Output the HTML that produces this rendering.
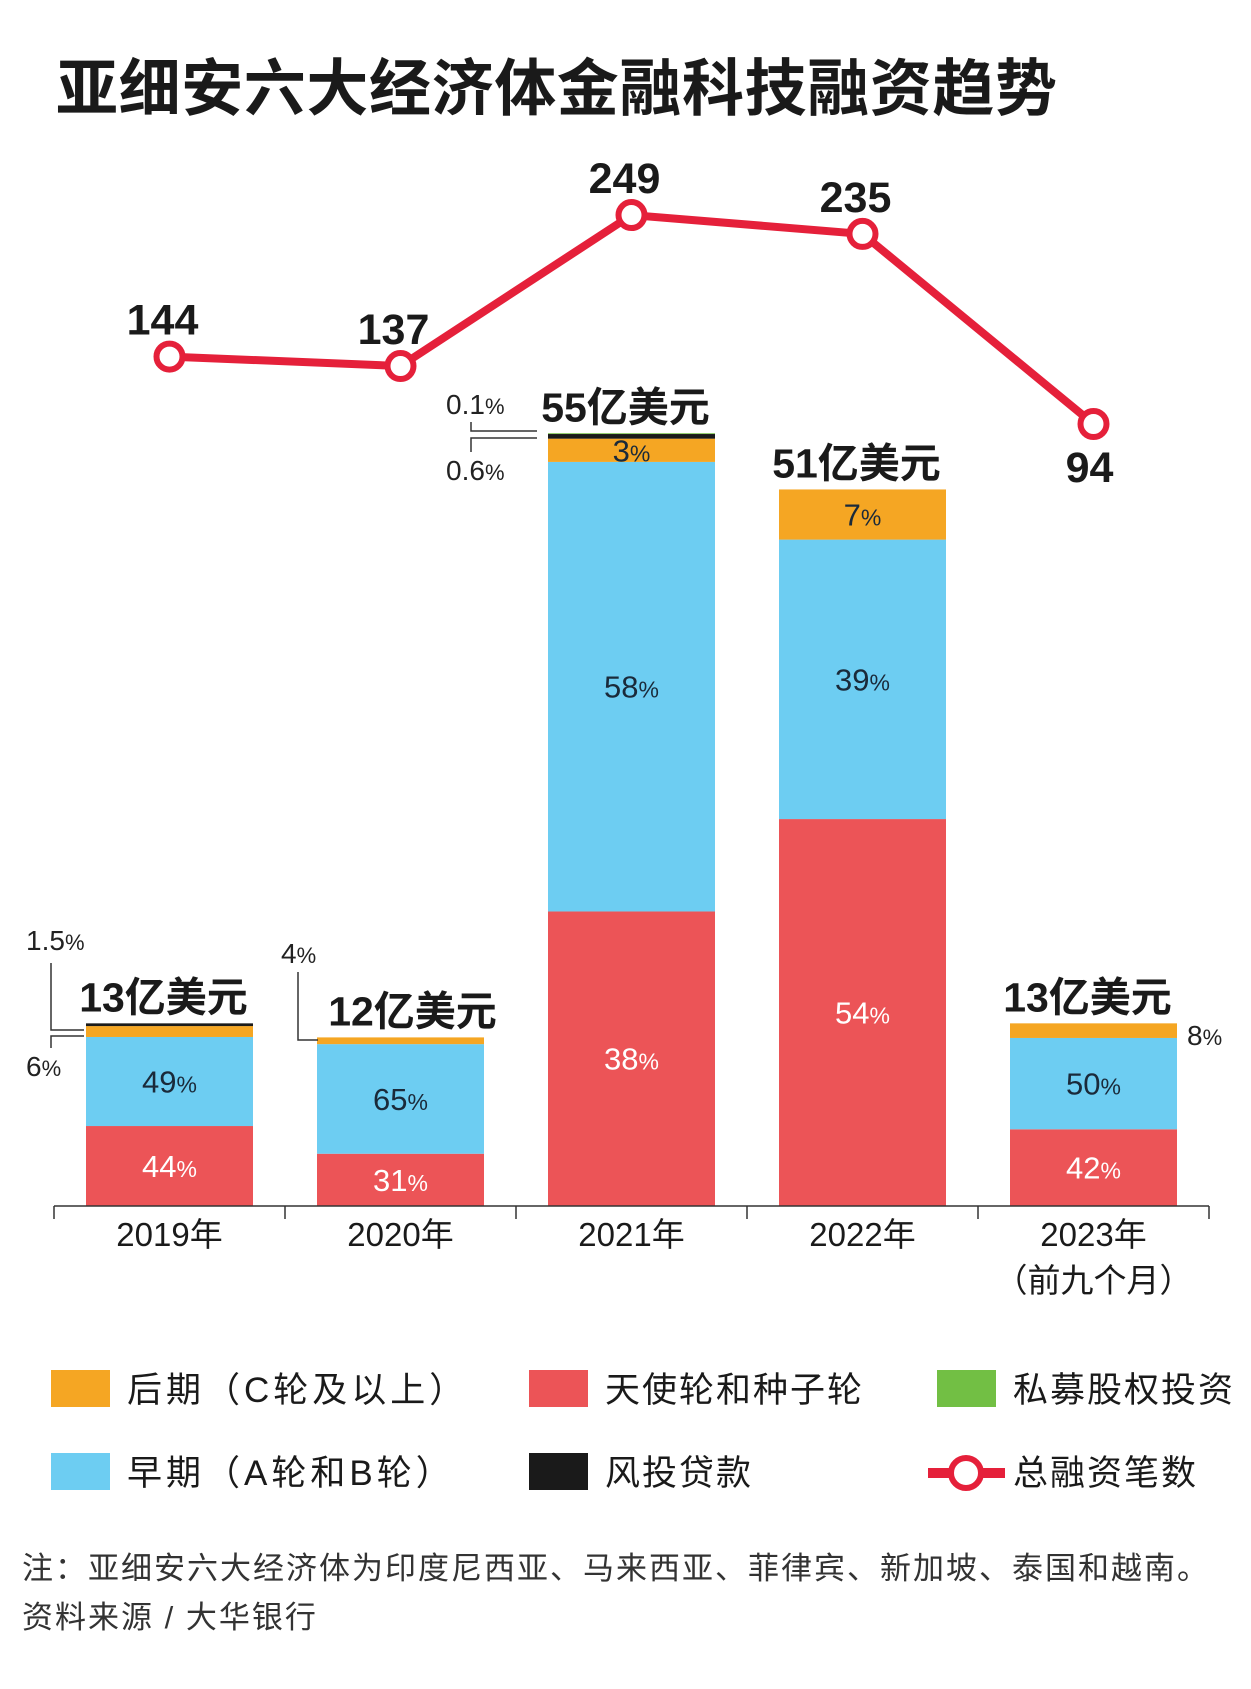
<!DOCTYPE html>
<html><head><meta charset="utf-8">
<style>
html,body{margin:0;padding:0;background:#fff;}
body{width:1251px;height:1684px;overflow:hidden;font-family:"Liberation Sans","Noto Sans CJK SC",sans-serif;}
svg text{font-family:"Liberation Sans","Noto Sans CJK SC",sans-serif;}
</style></head>
<body>
<svg id="chart" width="1251" height="1684" viewBox="0 0 1251 1684" xmlns="http://www.w3.org/2000/svg">
<text x="56" y="110" font-size="62" letter-spacing="0.6" font-weight="bold" fill="#1a1a1a">亚细安六大经济体金融科技融资趋势</text>
<g id="bars"></g>
<g id="line"></g>
<g id="axis"></g>
<g id="annot" font-size="28" fill="#222">
  <text x="26" y="950">1.5<tspan font-size="22">%</tspan></text>
  <path d="M51 963 V1030 H84" stroke="#333" stroke-width="1.5" fill="none"/>
  <path d="M51 1048 V1036 H84" stroke="#333" stroke-width="1.5" fill="none"/>
  <text x="26" y="1076">6<tspan font-size="22">%</tspan></text>
  <text x="281" y="963">4<tspan font-size="22">%</tspan></text>
  <path d="M298 972 V1040 H318" stroke="#333" stroke-width="1.5" fill="none"/>
  <text x="446" y="414">0.1<tspan font-size="22">%</tspan></text>
  <path d="M471 422 V431 H537" stroke="#333" stroke-width="1.5" fill="none"/>
  <path d="M471 452 V438 H537" stroke="#333" stroke-width="1.5" fill="none"/>
  <text x="446" y="480">0.6<tspan font-size="22">%</tspan></text>
  <text x="1187" y="1045">8<tspan font-size="22">%</tspan></text>
</g>
<g id="legend" font-size="35" letter-spacing="2" fill="#1a1a1a">
  <rect x="51" y="1370" width="59" height="37" fill="#F5A623"/>
  <text x="127" y="1402" letter-spacing="4">后期（C轮及以上）</text>
  <rect x="529" y="1370" width="59" height="37" fill="#EC5457"/>
  <text x="605" y="1402">天使轮和种子轮</text>
  <rect x="937" y="1370" width="59" height="37" fill="#72BF44"/>
  <text x="1013" y="1402">私募股权投资</text>
  <rect x="51" y="1453" width="59" height="37" fill="#6DCDF2"/>
  <text x="127" y="1485" letter-spacing="4">早期（A轮和B轮）</text>
  <rect x="529" y="1453" width="59" height="37" fill="#1a1a1a"/>
  <text x="605" y="1485">风投贷款</text>
  <line x1="928" y1="1473" x2="1005" y2="1473" stroke="#E5203A" stroke-width="10"/>
  <circle cx="966" cy="1473" r="15" fill="#fff" stroke="#E5203A" stroke-width="6"/>
  <text x="1013" y="1485">总融资笔数</text>
</g>
<text x="22" y="1579" font-size="31" letter-spacing="2" fill="#333">注：亚细安六大经济体为印度尼西亚、马来西亚、菲律宾、新加坡、泰国和越南。</text>
<text x="22" y="1628" font-size="31" letter-spacing="2" fill="#333">资料来源 / 大华银行</text>
</svg>
<script>
const years = ["2019年","2020年","2021年","2022年","2023年"];
const totals = [13,12,55,51,13];
const totalLabels = ["13亿美元","12亿美元","55亿美元","51亿美元","13亿美元"];
const angelPct = [44,31,38,54,42];
const earlyPct = [49,65,58,39,50];
const latePct = [6,4,3,7,8];
const debtPct = [1.5,0,0.6,0,0];
const pePct = [0,0,0.1,0,0];
const dealCounts = [144,137,249,235,94];

const NS="http://www.w3.org/2000/svg";
const axisY=1206, barW=167, bandL=54, bandW=231;
const xCenter=i=>bandL+bandW*i+bandW/2;
const yBar=v=>axisY-v*14.05;
const yLine=v=>424-(v-94)*1.348;
function mk(tag,attrs,parent){const e=document.createElementNS(NS,tag);for(const k in attrs)e.setAttribute(k,attrs[k]);parent.appendChild(e);return e;}
const gB=document.getElementById('bars'),gL=document.getElementById('line'),gA=document.getElementById('axis');
const segs=[["angel",angelPct,"#EC5457","#fff"],["early",earlyPct,"#6DCDF2","#1a2a3a"],["late",latePct,"#F5A623","#1a2a3a"],["debt",debtPct,"#1a1a1a",null],["pe",pePct,"#72BF44",null]];
years.forEach((yr,i)=>{
  const sum=segs.reduce((s,sg)=>s+sg[1][i],0);
  const H=axisY-yBar(totals[i]);
  let y=axisY;const x=xCenter(i)-barW/2;
  segs.forEach(sg=>{
    const v=sg[1][i];if(!v)return;
    const h=H*v/sum;y-=h;
    const r=mk('rect',{x:x,y:y,width:barW,height:h,fill:sg[2]},gB);
    
    
    if(sg[3]&&h>20){
      const t=mk('text',{x:xCenter(i),y:y+h/2+11,'text-anchor':'middle','font-size':31,fill:sg[3]},gB);
      
      
      t.textContent=v;const ts=mk('tspan',{'font-size':23},t);ts.textContent='%';
    }
  });
  const tl=mk('text',{x:xCenter(i)-(i===1?-12:6),y:yBar(totals[i])-12,'text-anchor':'middle','font-size':41,'font-weight':'bold',fill:'#1a1a1a'},gB);
  
  
  tl.textContent=totalLabels[i];
  const yl=mk('text',{x:xCenter(i),y:1246,'text-anchor':'middle','font-size':33,fill:'#1a1a1a'},gA);
  
  
  yl.textContent=yr;
});
const sub=mk('text',{x:xCenter(4),y:1292,'text-anchor':'middle','font-size':33,fill:'#1a1a1a'},gA);


sub.textContent='（前九个月）';
const ax=mk('line',{x1:bandL,y1:axisY,x2:bandL+bandW*5,y2:axisY,stroke:'#333','stroke-width':1.5},gA);


for(let k=0;k<=5;k++){const t=mk('line',{x1:bandL+bandW*k,y1:axisY,x2:bandL+bandW*k,y2:axisY+13,stroke:'#333','stroke-width':1.5},gA);

}
const pts=dealCounts.map((v,i)=>xCenter(i)+','+yLine(v)).join(' ');
const pl=mk('polyline',{points:pts,fill:'none',stroke:'#E5203A','stroke-width':8,'stroke-linejoin':'round'},gL);


dealCounts.forEach((v,i)=>{
  const c=mk('circle',{cx:xCenter(i),cy:yLine(v),r:13,fill:'#fff',stroke:'#E5203A','stroke-width':6},gL);
  
  
  const ly=i===4?yLine(v)+58:yLine(v)-22;
  const t=mk('text',{x:xCenter(i)+(i===4?-4:-7),y:ly,'text-anchor':'middle','font-size':43,'font-weight':'bold',fill:'#1a1a1a'},gL);
  
  
  t.textContent=v;
});
</script>
</body></html>
